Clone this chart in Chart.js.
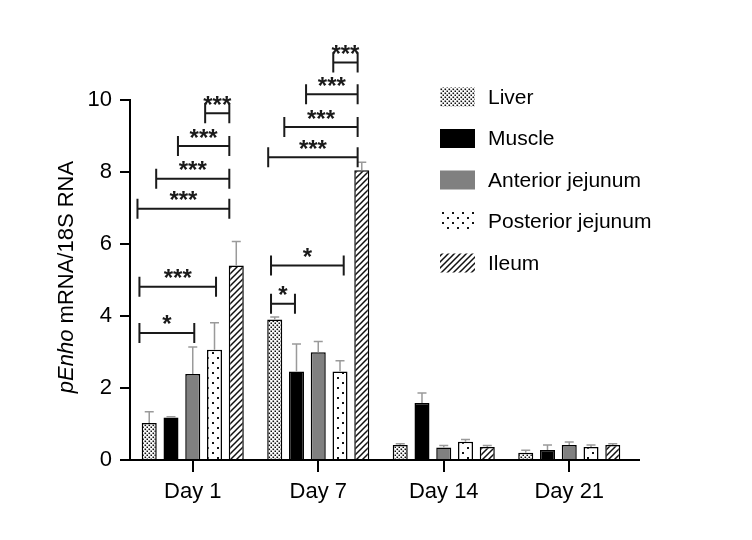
<!DOCTYPE html>
<html lang="en">
<head>
  <meta charset="UTF-8">
  <title>pEnho mRNA/18S RNA</title>
  <script src="https://cdn.jsdelivr.net/npm/chart.js"></script>
  <style>
    body {
      margin: 0;
      background-color: #ffffff;
    }
  </style>
</head>
<body>
  <canvas id="enhoChart" width="752" height="540"></canvas>

  <script>
    const FONT = "'Liberation Sans', Arial, sans-serif";

    // categories and series
    const days = ['Day 1', 'Day 7', 'Day 14', 'Day 21'];
    const tissues = ['Liver', 'Muscle', 'Anterior jejunum', 'Posterior jejunum', 'Ileum'];

    const liver     = [1.03, 3.90, 0.42, 0.20];
    const muscle    = [1.18, 2.46, 1.58, 0.28];
    const anterior  = [2.39, 2.99, 0.35, 0.42];
    const posterior = [3.06, 2.46, 0.51, 0.36];
    const ileum     = [5.40, 8.05, 0.36, 0.42];

    // upper error (SEM)
    const liverErr     = [0.31, 0.07, 0.03, 0.07];
    const muscleErr    = [0.02, 0.76, 0.28, 0.14];
    const anteriorErr  = [0.75, 0.30, 0.05, 0.08];
    const posteriorErr = [0.75, 0.30, 0.06, 0.06];
    const ileumErr     = [0.67, 0.22, 0.04, 0.03];

    const yTicks = [0, 2, 4, 6, 8, 10];

    // significance brackets: day index, from/to in bar slots from the group centre, height, label
    const bracketDay   = [0, 0, 0, 0, 0, 0, 1, 1, 1, 1, 1, 1];
    const bracketFrom  = [-2.45, -2.45, -2.54, -1.68, -0.68, 0.57, -2.17, -2.17, -2.30, -1.56, -0.56, 0.69];
    const bracketTo    = [0.07, 1.07, 1.68, 1.68, 1.68, 1.68, -1.07, 1.17, 1.81, 1.81, 1.81, 1.81];
    const bracketLevel = [3.53, 4.81, 6.98, 7.81, 8.72, 9.63, 4.34, 5.40, 8.41, 9.25, 10.16, 11.04];
    const bracketLabel = ['*', '***', '***', '***', '***', '***', '*', '*', '***', '***', '***', '***'];

    function makePattern(size, draw) {
      const c = document.createElement('canvas');
      c.width = size[0];
      c.height = size[1];
      const p = c.getContext('2d');
      p.fillStyle = '#ffffff';
      p.fillRect(0, 0, size[0], size[1]);
      draw(p);
      return document.getElementById('enhoChart').getContext('2d').createPattern(c, 'repeat');
    }

    const densePattern = makePattern([4, 4], p => {
      p.fillStyle = '#111';
      p.fillRect(0.5, 0.5, 1.6, 1.6);
      p.fillRect(2.5, 2.5, 1.6, 1.6);
    });
    const sparsePattern = makePattern([10, 10], p => {
      p.fillStyle = '#111';
      p.fillRect(2, 2, 2, 2);
      p.fillRect(7, 7, 2, 2);
    });
    const hatchPattern = makePattern([6, 6], p => {
      p.strokeStyle = '#111';
      p.lineWidth = 1.5;
      p.beginPath();
      p.moveTo(-1, 7); p.lineTo(7, -1);
      p.moveTo(-4, 4); p.lineTo(4, -4);
      p.moveTo(2, 10); p.lineTo(10, 2);
      p.stroke();
    });

    const seriesValues = [liver, muscle, anterior, posterior, ileum];
    const seriesErrors = [liverErr, muscleErr, anteriorErr, posteriorErr, ileumErr];
    const seriesFills = [densePattern, '#000000', '#808080', sparsePattern, hatchPattern];

    const datasets = tissues.map((t, i) => ({
      label: t,
      data: seriesValues[i],
      backgroundColor: seriesFills[i],
      borderColor: '#000000',
      borderWidth: 1.5,
      categoryPercentage: 0.867,
      barPercentage: 0.69
    }));

    const extrasPlugin = {
      id: 'extras',
      afterDatasetsDraw(chart) {
        const ctx = chart.ctx;
        const y = chart.scales.y;
        ctx.save();
        ctx.strokeStyle = '#9a9a9a';
        ctx.lineWidth = 1.5;
        seriesErrors.forEach((errs, di) => {
          const meta = chart.getDatasetMeta(di);
          meta.data.forEach((bar, j) => {
            const top = bar.y;
            const end = y.getPixelForValue(seriesValues[di][j] + errs[j]);
            ctx.beginPath();
            ctx.moveTo(bar.x, top);
            ctx.lineTo(bar.x, end);
            ctx.moveTo(bar.x - 4.5, end);
            ctx.lineTo(bar.x + 4.5, end);
            ctx.stroke();
          });
        });
        ctx.restore();
      },
      afterDraw(chart) {
        const ctx = chart.ctx;
        const x = chart.scales.x;
        const y = chart.scales.y;
        const area = chart.chartArea;
        ctx.save();

        // x axis runs a little past the last group
        ctx.strokeStyle = '#000';
        ctx.lineWidth = 2;
        ctx.beginPath();
        ctx.moveTo(area.right - 1, area.bottom);
        ctx.lineTo(area.right + 8, area.bottom);
        ctx.stroke();

        // brackets
        const slot = chart.getDatasetMeta(1).data[0].x - chart.getDatasetMeta(0).data[0].x;
        ctx.strokeStyle = '#1a1a1a';
        ctx.fillStyle = '#1a1a1a';
        ctx.lineWidth = 2;
        ctx.font = 'bold 24px ' + FONT;
        ctx.textAlign = 'center';
        ctx.textBaseline = 'alphabetic';
        bracketDay.forEach((d, i) => {
          const cx = x.getPixelForValue(d);
          const x1 = cx + bracketFrom[i] * slot;
          const x2 = cx + bracketTo[i] * slot;
          const yy = y.getPixelForValue(bracketLevel[i]);
          ctx.beginPath();
          ctx.moveTo(x1, yy); ctx.lineTo(x2, yy);
          ctx.moveTo(x1, yy - 10); ctx.lineTo(x1, yy + 10);
          ctx.moveTo(x2, yy - 10); ctx.lineTo(x2, yy + 10);
          ctx.stroke();
          const m = ctx.measureText(bracketLabel[i]);
          const target = yy - 13;
          const base = target - (m.actualBoundingBoxDescent - m.actualBoundingBoxAscent) / 2;
          ctx.fillText(bracketLabel[i], (x1 + x2) / 2, base);
        });

        // legend
        ctx.font = '21px ' + FONT;
        ctx.textAlign = 'left';
        ctx.textBaseline = 'middle';
        tissues.forEach((t, i) => {
          const ry = 97 + i * 41.5;
          ctx.fillStyle = seriesFills[i];
          ctx.fillRect(440, ry - 9.5, 35, 19);
          ctx.fillStyle = '#000';
          ctx.fillText(t, 488, ry + 1);
        });

        // y axis title with italic gene name
        ctx.translate(67, (area.top + area.bottom) / 2 - 3);
        ctx.rotate(-Math.PI / 2);
        ctx.font = 'italic 22px ' + FONT;
        const w1 = ctx.measureText('pEnho').width;
        ctx.font = '22px ' + FONT;
        const w2 = ctx.measureText(' mRNA/18S RNA').width;
        const start = -(w1 + w2) / 2;
        ctx.fillStyle = '#000';
        ctx.font = 'italic 22px ' + FONT;
        ctx.fillText('pEnho', start, 0);
        ctx.font = '22px ' + FONT;
        ctx.fillText(' mRNA/18S RNA', start + w1, 0);
        ctx.restore();
      }
    };

    const ctx = document.getElementById('enhoChart').getContext('2d');
    const enhoChart = new Chart(ctx, {
      type: 'bar',
      data: {
        labels: days,
        datasets: datasets
      },
      options: {
        responsive: false,
        animation: false,
        layout: {
          padding: { left: 0, top: 100, right: 120, bottom: 0 }
        },
        plugins: {
          legend: { display: false },
          tooltip: { enabled: false }
        },
        scales: {
          x: {
            afterFit: (scale) => { scale.height = 80; },
            grid: {
              offset: false,
              drawOnChartArea: false,
              tickLength: 12,
              lineWidth: 2,
              color: '#000'
            },
            border: { color: '#000', width: 2 },
            ticks: {
              color: '#000',
              padding: 7,
              font: { family: FONT, size: 22 }
            }
          },
          y: {
            min: 0,
            max: 10,
            afterFit: (scale) => { scale.width = 130; },
            afterBuildTicks: (scale) => { scale.ticks = yTicks.map(v => ({ value: v })); },
            grid: {
              drawOnChartArea: false,
              tickLength: 10,
              lineWidth: 2,
              color: '#000'
            },
            border: { color: '#000', width: 2 },
            ticks: {
              color: '#000',
              padding: 8,
              font: { family: FONT, size: 22 }
            }
          }
        }
      },
      plugins: [extrasPlugin]
    });
  </script>
</body>
</html>
